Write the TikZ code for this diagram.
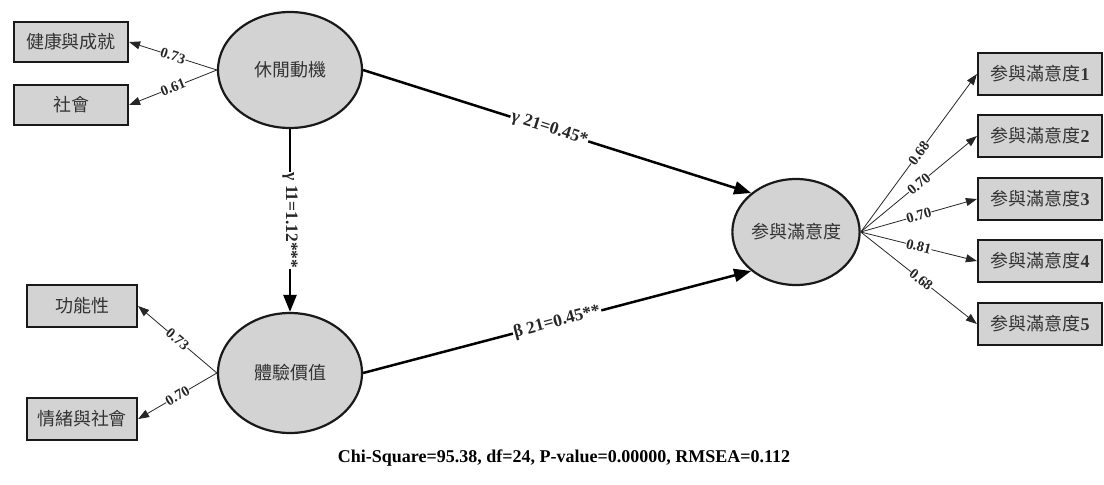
\documentclass[tikz,border=0pt]{standalone}
\usepackage{fontspec}
\setmainfont{Liberation Serif}
\newfontfamily\cjk{Noto Sans CJK TC}
\usetikzlibrary{arrows.meta,shapes.geometric}
\definecolor{boxfill}{HTML}{D3D3D3}
\definecolor{txt}{HTML}{333333}
\begin{document}
\begin{tikzpicture}[x=1pt,y=-1pt,
 obs/.style={draw=black!90,line width=2.2pt,fill=boxfill,minimum width=114pt,minimum height=40pt,inner sep=0pt,font=\fontsize{18}{18}\selectfont,text=txt},
 lat/.style={ellipse,draw=black!90,line width=2.2pt,fill=boxfill,inner sep=0pt,font=\cjk\fontsize{18}{18}\selectfont,text=txt},
 thinarr/.style={-{Triangle[length=11pt,width=8pt]},line width=0.8pt,draw=black!85},
 thickarr/.style={-{Triangle[length=17pt,width=13pt]},line width=2.5pt,draw=black},
 lbl/.style={font=\bfseries\fontsize{14.5}{14.5}\selectfont,fill=white,inner sep=0.3pt,sloped,text=black!85},
 blbl/.style={font=\bfseries\fontsize{17.5}{17.5}\selectfont,fill=white,inner sep=1pt,text=black!85}]
\useasboundingbox (0,0) rectangle (1104,485);
% latent variables
\node[lat,minimum width=144pt,minimum height=116pt] (m1) at (290,70) {休閒動機};
\node[lat,minimum width=144pt,minimum height=120pt] (m2) at (290,373) {體驗價值};
\node[lat,minimum width=112pt,minimum height=106pt] (sat) at (796,232) {参與滿意度};
% observed, left
\node[obs] (a1) at (71,42) {{\cjk 健康與成就}};
\node[obs] (a2) at (71,105) {{\cjk 社會}};
\node[obs,minimum width=110pt,minimum height=42pt] (b1) at (82,306) {{\cjk 功能性}};
\node[obs,minimum width=110pt,minimum height=42pt] (b2) at (82,419) {{\cjk 情緒與社會}};
% observed, right
\node[obs,minimum width=124pt,minimum height=42pt] (c1) at (1040,74) {{\cjk 参與滿意度}\textbf{1}};
\node[obs,minimum width=124pt,minimum height=42pt] (c2) at (1040,136) {{\cjk 参與滿意度}\textbf{2}};
\node[obs,minimum width=124pt,minimum height=42pt] (c3) at (1040,199) {{\cjk 参與滿意度}\textbf{3}};
\node[obs,minimum width=124pt,minimum height=42pt] (c4) at (1040,261) {{\cjk 参與滿意度}\textbf{4}};
\node[obs,minimum width=124pt,minimum height=42pt] (c5) at (1040,324) {{\cjk 参與滿意度}\textbf{5}};
% loadings
\draw[thinarr] (m1.west) -- node[lbl]{0.73} (a1.east);
\draw[thinarr] (m1.west) -- node[lbl]{0.61} (a2.east);
\draw[thinarr] (m2.west) -- node[lbl]{0.73} (b1.east);
\draw[thinarr] (m2.west) -- node[lbl]{0.70} (b2.east);
\draw[thinarr] (sat.east) -- node[lbl]{0.68} (c1.west);
\draw[thinarr] (sat.east) -- node[lbl]{0.70} (c2.west);
\draw[thinarr] (sat.east) -- node[lbl]{0.70} (c3.west);
\draw[thinarr] (sat.east) -- node[lbl]{0.81} (c4.west);
\draw[thinarr] (sat.east) -- node[lbl,pos=0.52]{0.68} (c5.west);
% structural paths
\draw[thickarr] (m1.east) -- node[blbl,sloped,pos=0.48]{γ 21=0.45*} (sat.139);
\draw[thickarr] (m1.south) -- node[blbl,rotate=-90]{γ 11=1.12***} (m2.north);
\draw[thickarr] (m2.east) -- node[blbl,sloped]{β 21=0.45**} (sat.221);
% fit indices
\node[font=\bfseries\fontsize{18}{18}\selectfont] (fit) at (564,458) {Chi-Square=95.38, df=24, P-value=0.00000, RMSEA=0.112};
\end{tikzpicture}
\end{document}
